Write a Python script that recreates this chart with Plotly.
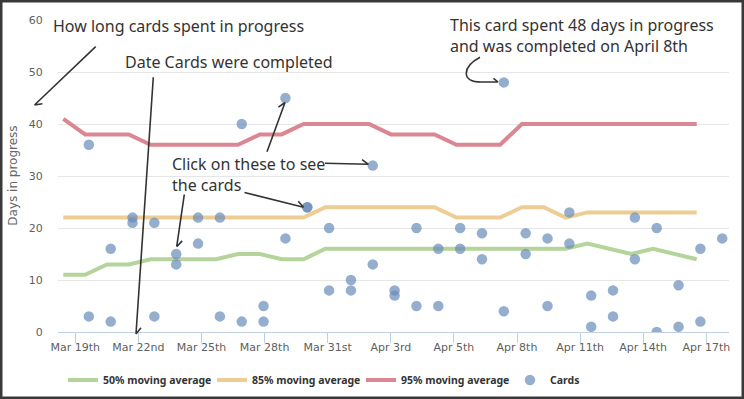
import math
import plotly.graph_objects as go

# ---------------- data ----------------
tick_labels = ["Mar 19th", "Mar 22nd", "Mar 25th", "Mar 28th", "Mar 31st", "Apr 3rd",
               "Apr 5th", "Apr 8th", "Apr 11th", "Apr 14th", "Apr 17th"]

ma_day = list(range(30))
ma50 = [11, 11, 13, 13, 14, 14, 14, 14, 15, 15, 14, 14, 16, 16, 16, 16, 16, 16, 16, 16,
        16, 16, 16, 16, 17, 16, 15, 16, 15, 14]
ma85 = [22, 22, 22, 22, 22, 22, 22, 22, 22, 22, 22, 22, 24, 24, 24, 24, 24, 24, 22, 22,
        22, 24, 24, 22, 23, 23, 23, 23, 23, 23]
ma95 = [41, 38, 38, 38, 36, 36, 36, 36, 36, 38, 38, 40, 40, 40, 40, 38, 38, 38, 36, 36,
        36, 40, 40, 40, 40, 40, 40, 40, 40, 40]

card_day = [1, 1, 2, 2, 3, 3, 4, 4, 5, 5, 6, 6, 7, 7, 8, 8, 9, 9, 10, 10,
            11, 11, 12, 12, 13, 13, 14, 14, 15, 15, 16, 16, 17, 17, 18, 18, 19, 19, 20, 20,
            21, 21, 22, 22, 23, 23, 24, 24, 25, 25, 26, 26, 27, 27, 28, 28, 29, 29, 30]
card_days_in_progress = [36, 3, 16, 2, 22, 21, 21, 3, 15, 13, 22, 17, 22, 3, 40, 2, 5, 2, 45, 18,
                         24, 24, 20, 8, 10, 8, 32, 13, 8, 7, 20, 5, 16, 5, 20, 16, 19, 14, 48, 4,
                         19, 15, 18, 5, 23, 17, 7, 1, 8, 3, 22, 14, 20, 0, 9, 1, 16, 2, 18]

# ---------------- style / layout constants ----------------
W, H = 744, 399
PX_L, PX_R, PX_T, PX_B = 58, 729, 20, 332
X_RANGE = [-0.243, 30.48]
TICK0, TICK_STEP = 0.55, 2.889
CARD_OFFSET = 0.17  # cards sit slightly after the day boundary (completion time)

TEXT_COLOR = "#333333"
ARROW_COLOR = "#333333"
ANN_FONT = "Noto Sans, Open Sans, sans-serif"
AXIS_FONT = "DejaVu Sans, Verdana, sans-serif"


def P(px, py):
    """pixel -> paper coordinates"""
    return (px - PX_L) / (PX_R - PX_L), (PX_B - py) / (PX_B - PX_T)


def path_from(points_cmds):
    s = []
    for cmd, pts in points_cmds:
        coords = " ".join("%.5f,%.5f" % P(x, y) for x, y in pts)
        s.append(cmd + " " + coords)
    return " ".join(s)


def arrow_path(x0, y0, x1, y1, head=8, ang=35):
    dx, dy = x1 - x0, y1 - y0
    L = math.hypot(dx, dy)
    ux, uy = dx / L, dy / L
    arms = []
    for a in (ang, -ang):
        r = math.radians(a)
        bx = -(ux * math.cos(r) - uy * math.sin(r))
        by = -(ux * math.sin(r) + uy * math.cos(r))
        arms.append((x1 + head * bx, y1 + head * by))
    return path_from([("M", [(x0, y0)]), ("L", [(x1, y1)]),
                      ("M", [arms[0]]), ("L", [(x1, y1), arms[1]])])


fig = go.Figure()

fig.add_trace(go.Scatter(x=ma_day, y=ma50, mode="lines", name="50% moving average",
                         line=dict(color="#b5d49b", width=4)))
fig.add_trace(go.Scatter(x=ma_day, y=ma85, mode="lines", name="85% moving average",
                         line=dict(color="#edcd93", width=4)))
fig.add_trace(go.Scatter(x=ma_day, y=ma95, mode="lines", name="95% moving average",
                         line=dict(color="#da8793", width=4)))
fig.add_trace(go.Scatter(x=[d + CARD_OFFSET for d in card_day], y=card_days_in_progress,
                         mode="markers", name="Cards",
                         marker=dict(color="rgba(105,139,185,0.7)", size=10.5)))

shapes = []
arrows = [
    (95.7, 46.7, 34.5, 105),
    (153.3, 77.3, 136, 334),
    (267, 151.7, 285, 102.5),
    (325, 163.3, 368.5, 164.3),
    (244.5, 192.5, 303.5, 207.3),
    (184.3, 194.5, 176.7, 246.7),
]
for a in arrows:
    shapes.append(dict(type="path", xref="paper", yref="paper", path=arrow_path(*a),
                       line=dict(color=ARROW_COLOR, width=1.6)))

# curved arrow to the 48-day card
curve = path_from([("M", [(480, 57.3)]), ("C", [(462, 67), (461, 82), (481, 82)]),
                   ("L", [(498, 82)]), ("M", [(493.5, 78.3)]), ("L", [(498, 82), (493.5, 85.7)])])
shapes.append(dict(type="path", xref="paper", yref="paper", path=curve,
                   line=dict(color=ARROW_COLOR, width=1.6)))

# outer frame
fx0, fy1 = P(0, 0)
fx1, fy0 = P(W, H)
shapes.append(dict(type="rect", xref="paper", yref="paper", x0=fx0, x1=fx1, y0=fy0, y1=fy1,
                   line=dict(color="#3a3a3a", width=5), fillcolor="rgba(0,0,0,0)", layer="above"))

annotations = []


def add_text(text, px, py, size=16):
    x, y = P(px, py)
    annotations.append(dict(text=text, x=x, y=y, xref="paper", yref="paper",
                            xanchor="left", yanchor="middle", showarrow=False, align="left",
                            font=dict(family=ANN_FONT, size=size, color=TEXT_COLOR)))


add_text("How long cards spent in progress", 50.5, 26)
add_text("Date Cards were completed", 123, 62)
add_text("Click on these to see<br>the cards", 169.5, 174.2)
add_text("This card spent 48 days in progress<br>and was completed on April 8th", 447.5, 35)

tx, ty = P(12.7, 176)
annotations.append(dict(text="Days in progress", x=tx, y=ty, xref="paper", yref="paper",
                        textangle=-90, showarrow=False, xanchor="center", yanchor="middle",
                        font=dict(family=AXIS_FONT, size=12, color="#666666")))

lx, ly = P(63, 380)

fig.update_layout(
    width=W, height=H, autosize=False,
    margin=dict(l=PX_L, r=W - PX_R, t=PX_T, b=H - PX_B, autoexpand=False),
    paper_bgcolor="white", plot_bgcolor="white",
    showlegend=True,
    legend=dict(orientation="h", x=lx, y=ly, xanchor="left", yanchor="middle",
                font=dict(family="Noto Sans, sans-serif", size=10.5, color="#333333", weight="bold"),
                itemwidth=30, entrywidth=104, entrywidthmode="pixels",
                bgcolor="rgba(0,0,0,0)"),
    xaxis=dict(range=X_RANGE, tickmode="array",
               tickvals=[TICK0 + k * TICK_STEP for k in range(len(tick_labels))],
               ticktext=tick_labels, ticks="outside", ticklen=10, tickcolor="#c0d0e0",
               showline=True, linecolor="#c0d0e0", linewidth=1, showgrid=False, zeroline=False,
               tickfont=dict(family=AXIS_FONT, size=11, color="#606060"),
               ticklabelstandoff=-5),
    yaxis=dict(range=[0, 60], dtick=10, showgrid=True, gridcolor="#e6e6e6", zeroline=False,
               showline=False, ticks="outside", ticklen=12, tickcolor="rgba(0,0,0,0)",
               tickfont=dict(family=AXIS_FONT, size=11, color="#606060")),
    shapes=shapes,
    annotations=annotations,
    hovermode="closest",
)

fig.write_html("out.html", config={"displayModeBar": False},
               post_script="document.body.style.margin='0';document.body.style.overflow='hidden';")
